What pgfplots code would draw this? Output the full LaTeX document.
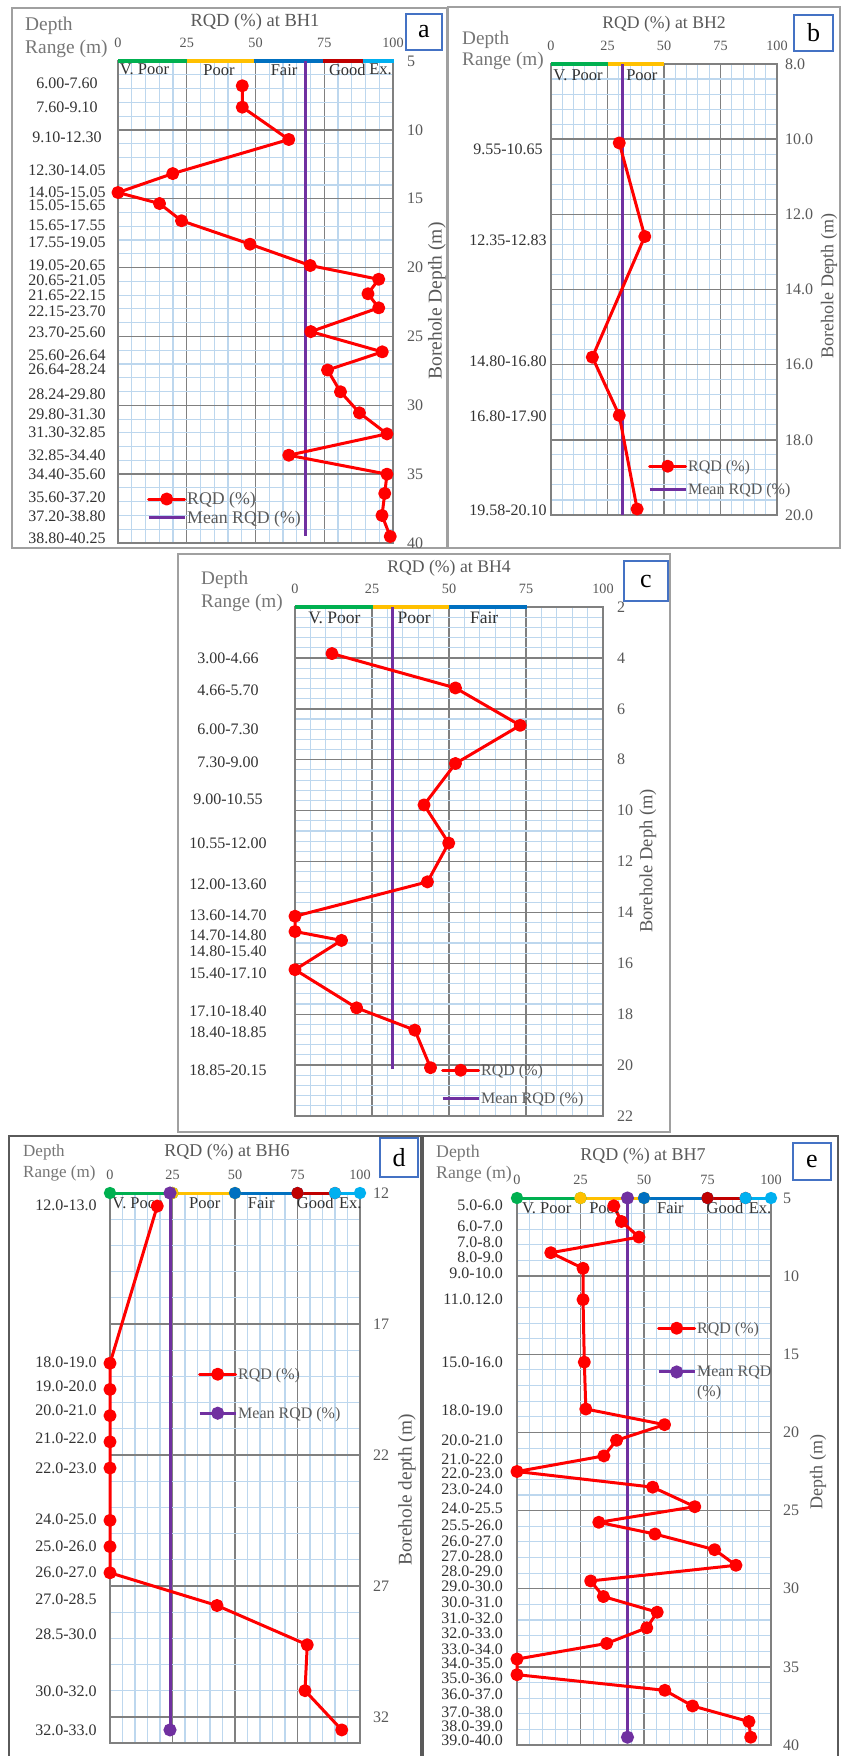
\documentclass[border=0pt]{standalone}
\usepackage{fontspec}
\setmainfont{Liberation Serif}
\usepackage{pgfplots}
\pgfplotsset{compat=1.18}

\definecolor{gridblue}{RGB}{189,215,238}
\definecolor{majgray}{RGB}{128,128,128}
\definecolor{rqdred}{RGB}{255,0,0}
\definecolor{meanpurple}{RGB}{112,48,160}
\definecolor{cgreen}{RGB}{0,176,80}
\definecolor{cyellow}{RGB}{255,192,0}
\definecolor{cblue}{RGB}{0,112,192}
\definecolor{cdred}{RGB}{192,0,0}
\definecolor{clblue}{RGB}{0,176,240}
\definecolor{boxblue}{RGB}{68,114,196}
\definecolor{txtgray}{RGB}{89,89,89}
\definecolor{hdrgray}{RGB}{118,118,118}
\definecolor{lblgray}{RGB}{50,50,50}
\definecolor{framegray}{RGB}{160,160,160}
\definecolor{framedark}{RGB}{90,90,90}

\tikzset{
  rqd/.style={rqdred, line width=3pt, line join=round, line cap=round, mark=*, mark size=5pt, mark options={solid, draw=none, fill=rqdred}},
  meanl/.style={meanpurple, line width=3pt},
  meanm/.style={meanpurple, line width=3pt, mark=*, mark size=5pt, mark options={solid, draw=none, fill=meanpurple}},
  barp/.style={#1, line width=4pt},
  barm/.style={#1, line width=3pt, mark=*, mark size=4.6pt, mark options={solid, draw=none, fill=#1}},
  cat/.style={font=\fontsize{16.5}{18}\selectfont, text=lblgray, inner sep=0pt},
  hdr/.style={font=\fontsize{19.2}{22}\selectfont, text=hdrgray, inner sep=0pt, anchor=west},
  ttl/.style={font=\fontsize{18}{21}\selectfont, text=txtgray, inner sep=0pt},
  ylab/.style={font=\fontsize{18.5}{21}\selectfont, text=txtgray, inner sep=0pt, rotate=90},
  letterbox/.style={draw=boxblue, line width=1.5pt, inner sep=0pt, font=\fontsize{26}{26}\selectfont},
}

\pgfplotsset{
  rqdpanel/.style={
    scale only axis, clip=false, anchor=north west,
    xmin=0, xmax=100, xtick={0,25,50,75,100},
    y dir=reverse,
    minor x tick num=4, minor y tick num=4,
    grid=both,
    minor grid style={gridblue, line width=1.1pt},
    major grid style={majgray, line width=1.4pt},
    axis line style={majgray, line width=1.4pt},
    major tick length=0pt, minor tick length=0pt,
    xticklabel pos=upper, yticklabel pos=right,
    xticklabel style={font=\fontsize{14.2}{16}\selectfont, text=txtgray, anchor=center, inner sep=0pt, yshift=18pt},
    yticklabel style={font=\fontsize{16}{18}\selectfont, text=txtgray, anchor=west, inner sep=0pt},
    /pgf/number format/assume math mode=true,
    legend image code/.code={\draw[mark repeat=2,mark phase=2,##1] plot coordinates {(0pt,0pt) (18pt,0pt) (36pt,0pt)};},
    legend style={draw=none, fill=none, inner sep=0pt, text=txtgray, anchor=north west, font=\fontsize{16}{20}\selectfont, nodes={inner sep=1pt, align=left}, cells={anchor=west}},
  },
  lblpanel/.style={
    scale only axis, anchor=north west, xmin=0, xmax=100, y dir=reverse,
    axis line style={draw=none}, major tick length=0pt, minor tick length=0pt, xtick=\empty,
    yticklabel pos=left,
    yticklabel style={font=\fontsize{16}{18}\selectfont, text=lblgray, anchor=center, inner sep=0pt},
  },
}

\begin{document}
\begin{tikzpicture}
\begin{scope}[x=1pt, y=-1pt]
\fill[white] (0,0) rectangle (843,1756);
\draw[framegray, line width=2pt] (12,8) rectangle (447,548);
\draw[framegray, line width=2pt] (448,7) rectangle (840,548);
\draw[framegray, line width=2pt] (178,554) rectangle (670,1132);
\draw[framedark, line width=1.5pt] (9,1770) -- (9,1136) -- (421,1136) -- (421,1770);
\draw[framedark, line width=1.5pt] (423,1770) -- (423,1136) -- (838,1136) -- (838,1770);
\end{scope}

% ---------------- Panel a (BH1) ----------------
\begin{axis}[rqdpanel, at={(118pt,-61pt)}, width=275pt, height=482pt,
  ymin=5, ymax=40, ytick={5,10,...,40}, yticklabel style={xshift=14pt},
  legend style={at={(axis description cs:0.1055,0.1081)}, row sep=2.8pt, font=\fontsize{17.8}{20}\selectfont}]
\addplot[barp=cgreen, forget plot] coordinates {(0,5) (25,5)};
\addplot[barp=cyellow, forget plot] coordinates {(25,5) (49.5,5)};
\addplot[barp=cblue, forget plot] coordinates {(49.5,5) (74.5,5)};
\addplot[barp=cdred, forget plot] coordinates {(74.5,5) (89,5)};
\addplot[barp=clblue, forget plot] coordinates {(89,5) (100.5,5)};
\addplot[meanl, forget plot] coordinates {(68.3,5) (68.3,39.5)};
\addplot[rqd, forget plot] coordinates {(45.2,6.8) (45.2,8.35) (62.1,10.7) (19.9,13.175) (0,14.55) (15.1,15.35) (23.1,16.6) (48.0,18.3) (69.9,19.85) (94.8,20.85) (90.9,21.9) (94.8,22.925) (70.1,24.65) (96.1,26.12) (76.2,27.44) (80.9,29.02) (87.8,30.55) (97.8,32.075) (62.1,33.625) (97.8,35.0) (97.0,36.4) (96.0,38.0) (99.0,39.525)};
\addlegendimage{rqd}\addlegendentry{RQD (\%)}
\addlegendimage{meanl}\addlegendentry{Mean RQD (\%)}
\node[cat, anchor=west] at (axis cs:0.6,5.63) {V. Poor};
\node[cat] at (axis cs:36.7,5.63) {Poor};
\node[cat] at (axis cs:60.4,5.63) {Fair};
\node[cat] at (axis cs:83.4,5.63) {Good};
\node[cat] at (axis cs:95.5,5.63) {Ex.};
\end{axis}
\begin{axis}[lblpanel, at={(118pt,-61pt)}, width=275pt, height=482pt, ymin=5, ymax=40,
  ytick={6.62,8.36,10.57,12.92,14.54,15.51,16.91,18.17,19.81,20.95,21.99,23.2,24.7,26.35,27.39,29.18,30.64,31.97,33.66,34.99,36.71,38.09,39.66},
  yticklabels={6.00-7.60,7.60-9.10,9.10-12.30,12.30-14.05,14.05-15.05,15.05-15.65,15.65-17.55,17.55-19.05,19.05-20.65,20.65-21.05,21.65-22.15,22.15-23.70,23.70-25.60,25.60-26.64,26.64-28.24,28.24-29.80,29.80-31.30,31.30-32.85,32.85-34.40,34.40-35.60,35.60-37.20,37.20-38.80,38.80-40.25},
  yticklabel style={xshift=-51pt}]
\addplot[draw=none, forget plot] coordinates {(0,5) (100,40)};
\end{axis}

% ---------------- Panel b (BH2) ----------------
\begin{axis}[rqdpanel, at={(551pt,-64pt)}, width=226pt, height=451pt,
  ymin=8, ymax=20, ytick={8,10,...,20}, yticklabel style={xshift=8pt},
  y tick label style={/pgf/number format/fixed, /pgf/number format/fixed zerofill, /pgf/number format/precision=1},
  legend style={at={(axis description cs:0.429,0.1248)}, row sep=8.4pt}]
\addplot[barp=cgreen, forget plot] coordinates {(0,8) (25,8)};
\addplot[barp=cyellow, forget plot] coordinates {(25,8) (50,8)};
\addplot[meanl, forget plot] coordinates {(31.7,8) (31.7,20)};
\addplot[rqd, forget plot] coordinates {(30.2,10.1) (41.5,12.59) (18.3,15.8) (30.2,17.35) (38.1,19.84)};
\addlegendimage{rqd}\addlegendentry{RQD (\%)}
\addlegendimage{meanl}\addlegendentry{Mean RQD (\%)}
\node[cat, anchor=west] at (axis cs:1.0,8.29) {V. Poor};
\node[cat] at (axis cs:40.2,8.29) {Poor};
\end{axis}
\begin{axis}[lblpanel, at={(551pt,-64pt)}, width=226pt, height=451pt, ymin=8, ymax=20,
  ytick={10.26,12.7,15.9,17.38,19.87},
  yticklabels={9.55-10.65,12.35-12.83,14.80-16.80,16.80-17.90,19.58-20.10},
  yticklabel style={xshift=-43pt}]
\addplot[draw=none, forget plot] coordinates {(0,8) (100,20)};
\end{axis}

% ---------------- Panel c (BH4) ----------------
\begin{axis}[rqdpanel, at={(295pt,-607pt)}, width=308pt, height=509pt,
  ymin=2, ymax=22, ytick={2,4,...,22}, yticklabel style={xshift=14pt},
  legend style={at={(axis description cs:0.474,0.1047)}, row sep=13.4pt}]
\addplot[barp=cgreen, forget plot] coordinates {(0,2) (25.2,2)};
\addplot[barp=cyellow, forget plot] coordinates {(25.2,2) (50,2)};
\addplot[barp=cblue, forget plot] coordinates {(50,2) (75.4,2)};
\addplot[meanl, forget plot] coordinates {(31.6,2) (31.6,20.15)};
\addplot[rqd, forget plot] coordinates {(12.0,3.83) (52.1,5.18) (73.1,6.65) (52.1,8.15) (41.9,9.775) (49.9,11.275) (43.0,12.8) (0,14.15) (0,14.75) (15.1,15.1) (0,16.25) (20.0,17.75) (38.9,18.625) (44.0,20.1)};
\addlegendimage{rqd}\addlegendentry{RQD (\%)}
\addlegendimage{meanl}\addlegendentry{Mean RQD (\%)}
\node[cat, font=\fontsize{17.5}{19}\selectfont] at (axis cs:12.8,2.41) {V. Poor};
\node[cat, font=\fontsize{17.5}{19}\selectfont] at (axis cs:38.7,2.41) {Poor};
\node[cat, font=\fontsize{17.5}{19}\selectfont] at (axis cs:61.4,2.41) {Fair};
\end{axis}
\begin{axis}[lblpanel, at={(295pt,-607pt)}, width=308pt, height=509pt, ymin=2, ymax=22,
  ytick={4.03,5.27,6.81,8.09,9.56,11.29,12.89,14.1,14.89,15.52,16.38,17.87,18.72,20.22},
  yticklabels={3.00-4.66,4.66-5.70,6.00-7.30,7.30-9.00,9.00-10.55,10.55-12.00,12.00-13.60,13.60-14.70,14.70-14.80,14.80-15.40,15.40-17.10,17.10-18.40,18.40-18.85,18.85-20.15},
  yticklabel style={xshift=-67pt}]
\addplot[draw=none, forget plot] coordinates {(0,2) (100,22)};
\end{axis}

% ---------------- Panel d (BH6) ----------------
\begin{axis}[rqdpanel, at={(110pt,-1193pt)}, width=250pt, height=550pt,
  ymin=12, ymax=33, ytick={12,17,...,32}, yticklabel style={xshift=13pt},
  legend style={at={(axis description cs:0.352,0.6842)}, row sep=24.4pt}]
\addplot[barm=cgreen, forget plot] coordinates {(0,12) (25,12)};
\addplot[barm=cyellow, forget plot] coordinates {(25,12) (50,12)};
\addplot[barm=cblue, forget plot] coordinates {(50,12) (75,12)};
\addplot[barm=cdred, forget plot] coordinates {(75,12) (90,12)};
\addplot[barm=clblue, forget plot] coordinates {(90,12) (100,12)};
\addplot[meanm, forget plot] coordinates {(24.0,12) (24.0,32.5)};
\addplot[rqd, forget plot] coordinates {(18.9,12.5) (0,18.5) (0,19.5) (0,20.5) (0,21.5) (0,22.5) (0,24.5) (0,25.5) (0,26.5) (42.8,27.75) (78.9,29.25) (78.0,31.0) (92.7,32.5)};
\addlegendimage{rqd}\addlegendentry{RQD (\%)}
\addlegendimage{meanm}\addlegendentry{Mean RQD (\%)}
\node[cat, anchor=west] at (axis cs:0.9,12.38) {V. Poor};
\node[cat] at (axis cs:37.9,12.38) {Poor};
\node[cat] at (axis cs:60.5,12.38) {Fair};
\node[cat] at (axis cs:82.1,12.38) {Good};
\node[cat] at (axis cs:96.1,12.38) {Ex.};
\end{axis}
\begin{axis}[lblpanel, at={(110pt,-1193pt)}, width=250pt, height=550pt, ymin=12, ymax=33,
  ytick={12.47,18.45,19.38,20.31,21.38,22.5,24.47,25.49,26.5,27.52,28.86,31.02,32.5},
  yticklabels={12.0-13.0,18.0-19.0,19.0-20.0,20.0-21.0,21.0-22.0,22.0-23.0,24.0-25.0,25.0-26.0,26.0-27.0,27.0-28.5,28.5-30.0,30.0-32.0,32.0-33.0},
  yticklabel style={xshift=-44pt}]
\addplot[draw=none, forget plot] coordinates {(0,12) (100,33)};
\end{axis}

% ---------------- Panel e (BH7) ----------------
\begin{axis}[rqdpanel, at={(517pt,-1198pt)}, width=254pt, height=547pt,
  ymin=5, ymax=40, ytick={5,10,...,40}, yticklabel style={xshift=12pt},
  legend style={at={(axis description cs:0.551,0.7757)}, row sep=29.4pt}]
\addplot[barm=cgreen, forget plot] coordinates {(0,5) (25,5)};
\addplot[barm=cyellow, forget plot] coordinates {(25,5) (50,5)};
\addplot[barm=cblue, forget plot] coordinates {(50,5) (75,5)};
\addplot[barm=cdred, forget plot] coordinates {(75,5) (90,5)};
\addplot[barm=clblue, forget plot] coordinates {(90,5) (100,5)};
\addplot[meanm, forget plot] coordinates {(43.5,5) (43.5,39.5)};
\addplot[rqd, forget plot] coordinates {(38.1,5.5) (41.1,6.5) (48.0,7.5) (13.3,8.5) (26.0,9.5) (26.0,11.5) (26.5,15.5) (27.1,18.5) (58.1,19.5) (39.2,20.5) (34.2,21.5) (0,22.5) (53.4,23.5) (70.0,24.75) (32.2,25.75) (54.3,26.5) (77.8,27.5) (86.2,28.5) (29.0,29.5) (34.0,30.5) (55.2,31.5) (51.1,32.5) (35.3,33.5) (0,34.5) (0,35.5) (58.2,36.5) (69.1,37.5) (91.3,38.5) (92.0,39.5)};
\addlegendimage{rqd}\addlegendentry{RQD (\%)}
\addlegendimage{meanm, yshift=10pt}\addlegendentry{Mean RQD\\(\%)}
\node[cat] at (axis cs:11.7,5.64) {V. Poor};
\node[cat] at (axis cs:34.6,5.64) {Poor};
\node[cat] at (axis cs:60.4,5.64) {Fair};
\node[cat] at (axis cs:81.9,5.64) {Good};
\node[cat] at (axis cs:95.7,5.64) {Ex.};
\end{axis}
\begin{axis}[lblpanel, at={(517pt,-1198pt)}, width=254pt, height=547pt, ymin=5, ymax=40,
  ytick={5.47,6.81,7.81,8.77,9.83,11.49,15.53,18.6,20.47,21.7,22.6,23.62,24.83,25.96,26.96,27.91,28.87,29.83,30.89,31.91,32.87,33.87,34.77,35.72,36.74,37.91,38.77,39.7},
  yticklabels={5.0-6.0,6.0-7.0,7.0-8.0,8.0-9.0,9.0-10.0,11.0.12.0,15.0-16.0,18.0-19.0,20.0-21.0,21.0-22.0,22.0-23.0,23.0-24.0,24.0-25.5,25.5-26.0,26.0-27.0,27.0-28.0,28.0-29.0,29.0-30.0,30.0-31.0,31.0-32.0,32.0-33.0,33.0-34.0,34.0-35.0,35.0-36.0,36.0-37.0,37.0-38.0,38.0-39.0,39.0-40.0},
  yticklabel style={anchor=east, xshift=-14pt}]
\addplot[draw=none, forget plot] coordinates {(0,5) (100,40)};
\end{axis}

% ---------------- Texts and boxes ----------------
\begin{scope}[x=1pt, y=-1pt]
\node[ttl, font=\fontsize{18.5}{21}\selectfont] at (255,22) {RQD (\%) at BH1};
\node[ttl, font=\fontsize{17.7}{21}\selectfont] at (664,24) {RQD (\%) at BH2};
\node[ttl, font=\fontsize{17.7}{21}\selectfont] at (449,568) {RQD (\%) at BH4};
\node[ttl] at (227,1152) {RQD (\%) at BH6};
\node[ttl] at (643,1156) {RQD (\%) at BH7};

\node[hdr, font=\fontsize{19.4}{22}\selectfont] at (25,26) {Depth};
\node[hdr, font=\fontsize{19.4}{22}\selectfont] at (25,49) {Range (m)};
\node[hdr] at (462,40) {Depth};
\node[hdr] at (462,61) {Range (m)};
\node[hdr] at (201,580) {Depth};
\node[hdr] at (201,603) {Range (m)};
\node[hdr, font=\fontsize{17}{20}\selectfont] at (23,1152) {Depth};
\node[hdr, font=\fontsize{17}{20}\selectfont] at (23,1173) {Range (m)};
\node[hdr, font=\fontsize{17.8}{20}\selectfont] at (436,1153) {Depth};
\node[hdr, font=\fontsize{17.8}{20}\selectfont] at (436,1174) {Range (m)};

\node[ylab, font=\fontsize{19.5}{21}\selectfont] at (437,301) {Borehole Depth (m)};
\node[ylab, font=\fontsize{18}{21}\selectfont] at (829,286) {Borehole Depth (m)};
\node[ylab] at (648,861) {Borehole Deph (m)};
\node[ylab, font=\fontsize{19.3}{21}\selectfont] at (407,1490) {Borehole depth (m)};
\node[ylab, font=\fontsize{18}{21}\selectfont] at (818,1472) {Depth (m)};

\node[letterbox, minimum width=36pt, minimum height=36pt] at (424,32) {a};
\node[letterbox, minimum width=39pt, minimum height=36pt] at (813.5,33) {b};
\node[letterbox, minimum width=44pt, minimum height=40pt] at (646,581) {c};
\node[letterbox, minimum width=38pt, minimum height=39pt] at (399,1157.5) {d};
\node[letterbox, minimum width=38pt, minimum height=37pt] at (812,1161.5) {e};
\end{scope}

\pgfresetboundingbox
\path[use as bounding box] (0pt,0pt) rectangle (843pt,-1756pt);
\end{tikzpicture}
\end{document}
